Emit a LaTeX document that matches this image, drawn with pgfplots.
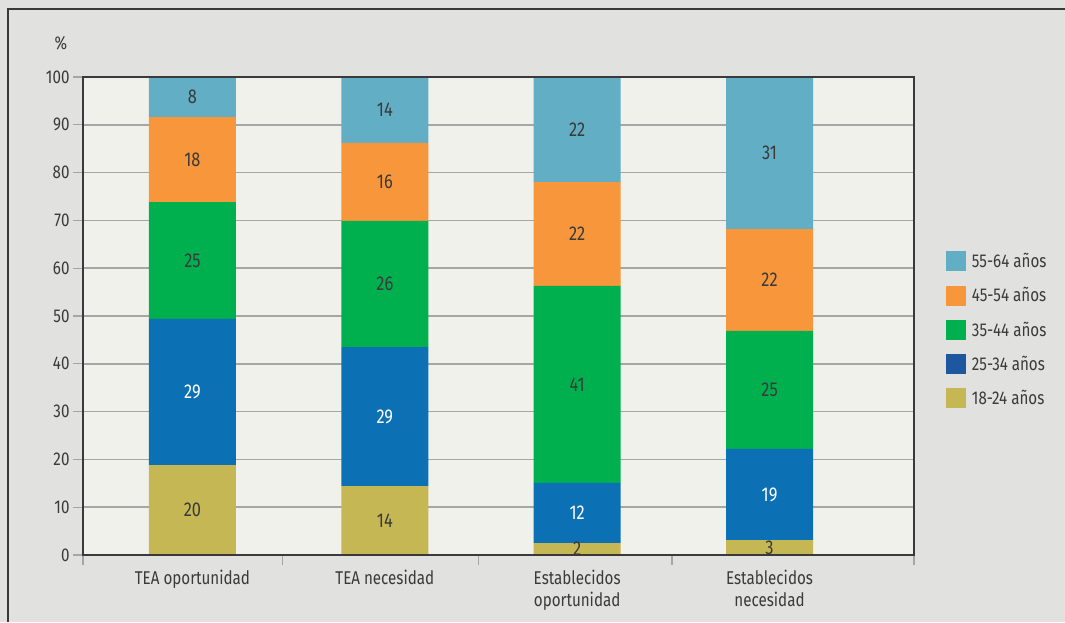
\documentclass[border=0pt]{standalone}
\usepackage{fontspec}
\setmainfont{Fira Sans}[FakeStretch=0.82]
\usepackage{pgfplots}
\pgfplotsset{compat=1.18}

\definecolor{outerbg}{HTML}{E1E1E0}
\definecolor{plotbg}{HTML}{F1F1EC}
\definecolor{framec}{HTML}{3A3A3A}
\definecolor{gridc}{HTML}{A6A6A6}
\definecolor{txt}{HTML}{3A3A3A}
\definecolor{c55}{HTML}{62AEC4}
\definecolor{c45}{HTML}{F8963B}
\definecolor{c35}{HTML}{00B04F}
\definecolor{c25}{HTML}{0B71B4}
\definecolor{c25leg}{HTML}{1E56A0}
\definecolor{c18}{HTML}{C5B753}

\newcommand\tfont{\fontsize{18.5}{22}\selectfont}
\newcommand\bfont{\fontsize{20}{22}\selectfont}

\pgfplotsset{
  sq legend/.style={legend image code/.code={\fill[##1] (0pt,-10pt) rectangle (20pt,10pt);}},
  frame/.style={at={(83pt,67pt)}, anchor=south west,
    scale only axis, width=831pt, height=478pt,
    xmin=-0.569, xmax=3.751, ymin=0, ymax=100},
  lbl/.style={only marks, mark=none, point meta=explicit symbolic,
    nodes near coords, nodes near coords align=center,
    every node near coord/.append style={anchor=center, text=#1, font=\bfont}},
}

\begin{document}
\begin{tikzpicture}[x=1pt,y=1pt]
\fill[outerbg] (0,0) rectangle (1065,622);
\path[use as bounding box] (0,0) rectangle (1065,622);
\draw[framec, line width=1.6pt] (8,0) -- (8,613) -- (1065,613);
\node[text=txt, font=\tfont] at (61,579) {\%};

\begin{axis}[
  frame,
  ybar stacked, bar width=87pt,
  axis background/.style={fill=plotbg},
  axis line style={draw=none},
  after end axis/.code={\draw[framec, line width=1.6pt] (rel axis cs:0,0) rectangle (rel axis cs:1,1);},
  ytick={0,10,...,100},
  ymajorgrids, grid style={gridc, line width=1.5pt},
  tick pos=left, tick align=outside, major tick length=10pt,
  every tick/.style={gridc, line width=1.2pt},
  xtick={-0.569,0.469,1.488,2.493,3.751}, xticklabels={},
  extra x ticks={0,1,2,3},
  extra x tick labels={TEA oportunidad, TEA necesidad, Establecidos\\oportunidad, Establecidos\\necesidad},
  extra x tick style={major tick length=0pt, grid=none,
    xticklabel style={align=center, yshift=-12pt, font=\tfont}},
  /pgf/number format/assume math mode=true,
  ticklabel style={text=txt, font=\tfont},
  legend style={at={(1.0346,0.640)}, anchor=north west, draw=none, fill=none,
    font=\tfont, text=txt, row sep=14.3pt,
    /tikz/every odd column/.append style={column sep=4pt}},
  legend cell align=left,
  reverse legend,
]
\addplot[fill=c18, draw=none, sq legend] coordinates {
  (0,18.8) (1,14.4) (2,2.5) (3,3.1)};
\addplot[fill=c25, draw=none, sq legend, legend image post style={fill=c25leg}] coordinates {
  (0,30.6) (1,29.1) (2,12.6) (3,19.1)};
\addplot[fill=c35, draw=none, sq legend] coordinates {
  (0,24.4) (1,26.4) (2,41.2) (3,24.7)};
\addplot[fill=c45, draw=none, sq legend] coordinates {
  (0,17.8) (1,16.3) (2,21.7) (3,21.3)};
\addplot[fill=c55, draw=none, sq legend] coordinates {
  (0,8.4) (1,13.8) (2,22.0) (3,31.8)};
\legend{18-24 años, 25-34 años, 35-44 años, 45-54 años, 55-64 años}
\end{axis}

% value labels, centred in each segment
\begin{axis}[frame, hide axis]
\addplot[lbl=txt] coordinates {
  (0,9.4) [20] (1,7.2) [14] (2,1.25) [2] (3,1.55) [3]};
\addplot[lbl=white] coordinates {
  (0,34.1) [29] (1,28.95) [29] (2,8.8) [12] (3,12.65) [19]};
\addplot[lbl=txt] coordinates {
  (0,61.6) [25] (1,56.7) [26] (2,35.7) [41] (3,34.55) [25]};
\addplot[lbl=txt] coordinates {
  (0,82.7) [18] (1,78.05) [16] (2,67.15) [22] (3,57.55) [22]};
\addplot[lbl=txt] coordinates {
  (0,95.8) [8] (1,93.1) [14] (2,89.0) [22] (3,84.1) [31]};
\end{axis}
\end{tikzpicture}
\end{document}
